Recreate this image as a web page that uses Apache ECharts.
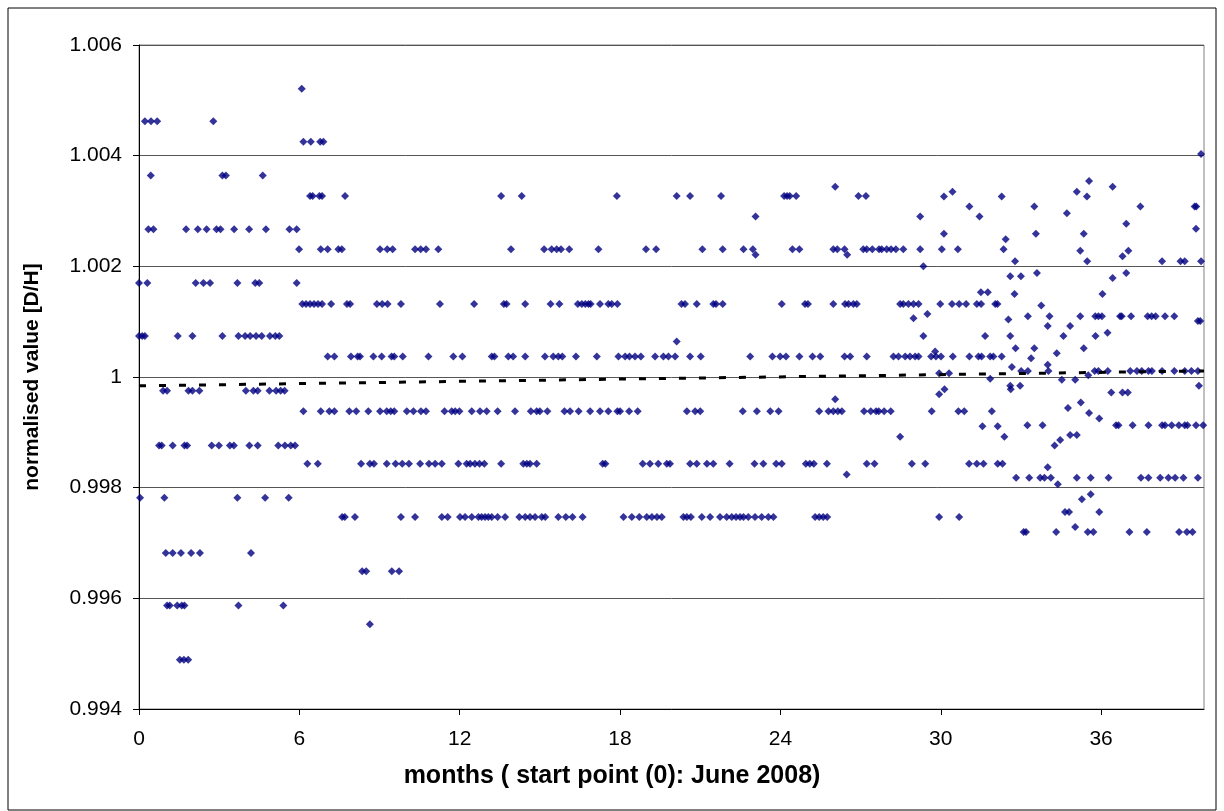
<!DOCTYPE html>
<html>
<head>
<meta charset="utf-8">
<script src="https://cdn.jsdelivr.net/npm/echarts@6/dist/echarts.min.js"></script>
<style>
  html, body { margin: 0; padding: 0; background: #fff; }
  #dh { width: 1224px; height: 811px; }
</style>
</head>
<body>
<div id="dh"></div>
<script>
// axis ticks
var monthTicks = [0, 6, 12, 18, 24, 30, 36];
var valueTicks = [0.994, 0.996, 0.998, 1, 1.002, 1.004, 1.006];

// measurements, one row per value level: [value, [months...]]
// first six months
var periodA = [
  [1.00462, [0.22, 0.45, 0.68, 2.78]],
  [1.00364, [0.44, 3.12, 3.25, 4.63]],
  [1.00267, [0.35, 0.54, 1.76, 2.2, 2.53, 2.9, 3.05, 3.56, 4.12, 4.75, 5.63, 5.9]],
  [1.0017, [0, 0.31, 2.12, 2.41, 2.66, 3.68, 4.35, 4.5, 5.9]],
  [1.00074, [0, 0.12, 0.22, 1.45, 2.0, 3.12, 3.72, 3.97, 4.16, 4.38, 4.59, 4.9, 5.1, 5.25]],
  [0.99975, [0.9, 1.05, 1.85, 2.0, 2.26, 4.0, 4.28, 4.44, 4.88, 5.13, 5.3, 5.45]],
  [0.99876, [0.75, 0.85, 1.26, 1.7, 1.8, 2.72, 2.99, 3.4, 3.55, 4.13, 4.44, 5.21, 5.46, 5.68, 5.84]],
  [0.99782, [0.04, 0.95, 3.68, 4.72, 5.6]],
  [0.99682, [1.0, 1.26, 1.57, 1.95, 2.28, 4.19]],
  [0.99587, [1.05, 1.15, 1.43, 1.6, 1.7, 3.72, 5.4]],
  [0.99489, [1.53, 1.68, 1.84]]
];

// month 6 to ~32
var periodB = [
  [1.00521, [6.09]],
  [1.00425, [6.15, 6.43, 6.78, 6.9]],
  [1.00327, [6.4, 6.5, 6.75, 6.85, 7.71, 13.55, 14.32, 17.88, 20.12, 20.62, 21.78, 24.14, 24.25, 24.35, 24.59, 26.92, 27.2]],
  [1.0029, [23.07]],
  [1.00231, [5.99, 6.8, 7.06, 7.46, 7.59, 9.02, 9.29, 9.49, 10.33, 10.54, 10.74, 11.2, 13.92, 15.16, 15.44, 15.63, 15.79, 16.1, 17.19, 18.97, 19.35, 21.08, 21.84, 22.62, 22.97, 24.45, 24.71, 25.98, 26.13, 26.4, 27.1, 27.23, 27.44, 27.69, 27.79, 27.98, 28.14, 28.32, 28.6, 29.23, 30.04, 30.64, 32.35]],
  [1.00221, [23.07, 26.5]],
  [1.00132, [6.11, 6.25, 6.4, 6.55, 6.7, 6.85, 7.19, 7.78, 7.9, 8.9, 9.1, 9.3, 9.8, 11.26, 12.54, 13.65, 13.75, 14.45, 15.4, 15.73, 16.42, 16.57, 16.7, 16.82, 16.9, 17.25, 17.56, 17.69, 17.9, 20.3, 20.43, 20.87, 21.49, 21.59, 21.84, 24.05, 24.92, 25.03, 25.98, 26.42, 26.55, 26.73, 26.86, 28.48, 28.6, 28.79, 28.98, 29.17, 29.98, 30.42, 30.69, 30.95, 31.35, 31.51, 32.04, 32.12]],
  [1.00064, [20.12]],
  [1.00037, [7.06, 7.31, 7.93, 8.18, 8.27, 8.77, 9.08, 9.45, 9.55, 9.87, 10.83, 11.76, 12.1, 13.2, 13.3, 13.82, 14.0, 14.45, 15.19, 15.5, 15.69, 15.84, 16.35, 17.13, 17.94, 18.19, 18.35, 18.56, 18.78, 19.31, 19.62, 19.81, 20.06, 20.62, 21.02, 22.87, 23.7, 23.99, 24.21, 24.71, 25.2, 25.49, 26.4, 26.61, 27.23, 28.23, 28.42, 28.67, 28.85, 29.04, 29.17, 29.64, 29.82, 30.01, 30.45, 31.07, 31.41, 31.53, 31.85, 31.97, 32.28]],
  [0.99938, [6.15, 6.8, 7.12, 7.31, 7.87, 8.13, 8.58, 9.02, 9.27, 9.42, 9.55, 10.02, 10.27, 10.55, 10.74, 11.43, 11.7, 11.83, 11.99, 12.45, 12.76, 13.01, 13.42, 14.07, 14.66, 14.88, 15.0, 15.28, 15.92, 16.13, 16.45, 16.88, 17.25, 17.56, 17.9, 18.0, 18.34, 18.66, 20.5, 20.81, 21.0, 22.59, 23.12, 23.62, 23.93, 25.45, 25.8, 25.98, 26.15, 26.3, 27.13, 27.38, 27.58, 27.68, 27.88, 28.13, 29.66, 30.66, 30.88, 31.91]],
  [0.99843, [6.3, 6.69, 8.31, 8.64, 8.79, 9.27, 9.6, 9.85, 10.1, 10.52, 10.85, 11.08, 11.33, 11.95, 12.26, 12.39, 12.57, 12.74, 12.92, 13.55, 14.38, 14.51, 14.63, 14.88, 17.35, 17.45, 18.85, 19.12, 19.43, 19.75, 19.87, 20.62, 20.87, 21.25, 21.49, 22.1, 23.03, 23.36, 23.84, 24.05, 24.95, 25.1, 25.25, 25.74, 27.23, 27.52, 28.92, 29.42, 31.06, 31.35, 31.6, 32.13, 32.31]],
  [0.99824, [26.48]],
  [0.99747, [7.6, 7.7, 8.08, 9.8, 10.33, 11.33, 11.55, 12.01, 12.2, 12.45, 12.7, 12.82, 12.95, 13.07, 13.2, 13.42, 13.7, 14.23, 14.45, 14.63, 14.82, 15.07, 15.2, 15.69, 15.97, 16.22, 16.6, 18.13, 18.44, 18.72, 19.0, 19.19, 19.38, 19.56, 20.37, 20.5, 20.65, 21.06, 21.37, 21.74, 21.99, 22.18, 22.34, 22.49, 22.62, 22.8, 23.05, 23.3, 23.55, 23.74, 25.3, 25.45, 25.6, 25.75, 29.94, 30.69]],
  [0.99649, [8.35, 8.5, 9.46, 9.73]],
  [0.99553, [8.64]]
];

// scattered values, mostly after month 28
var periodC = [
  [1.00403, [39.74]],
  [1.00354, [35.55]],
  [1.00344, [26.05, 36.43]],
  [1.00335, [30.44, 35.09]],
  [1.00326, [30.12, 32.28, 35.47]],
  [1.00308, [31.07, 33.5, 37.47, 39.5, 39.56]],
  [1.00296, [34.72]],
  [1.0029, [29.23, 31.45]],
  [1.00277, [36.94]],
  [1.00268, [39.55]],
  [1.00259, [30.12, 33.56, 35.35]],
  [1.00249, [32.43]],
  [1.00228, [35.22, 37.02]],
  [1.00218, [36.8]],
  [1.00209, [32.78, 35.48, 38.28, 38.97, 39.13, 39.74]],
  [1.002, [29.35]],
  [1.00188, [33.6, 36.94]],
  [1.00182, [32.6, 33.0]],
  [1.00179, [36.43]],
  [1.00153, [31.5, 31.76]],
  [1.0015, [32.76, 36.05]],
  [1.00129, [33.76]],
  [1.00114, [29.5]],
  [1.0011, [33.26, 34.07, 35.22, 35.78, 35.9, 36.03, 36.71, 36.77, 37.12, 37.74, 37.89, 38.04, 38.39, 38.74]],
  [1.00106, [28.98]],
  [1.00104, [32.53]],
  [1.00101, [39.62, 39.71]],
  [1.00092, [34.0, 34.84]],
  [1.0008, [36.24]],
  [1.00074, [29.35, 31.66, 32.6, 34.59, 35.79]],
  [1.00052, [32.8, 33.5, 35.35]],
  [1.00046, [29.79]],
  [1.00043, [34.34]],
  [1.00034, [33.38]],
  [1.00022, [34.0]],
  [1.00018, [32.66]],
  [1.00011, [33.01, 33.26, 34.03, 35.76, 35.9, 36.25, 37.09, 37.34, 37.52, 37.77, 37.9, 38.28, 38.74, 39.13, 39.38, 39.62]],
  [1.00007, [29.94, 30.31]],
  [1.00003, [35.52]],
  [0.99997, [31.85]],
  [0.99995, [34.53, 35.03]],
  [0.99984, [32.6, 32.97, 39.66]],
  [0.99978, [30.14, 32.62]],
  [0.99972, [36.38, 36.8, 37.0]],
  [0.99969, [29.94]],
  [0.9996, [26.05]],
  [0.99954, [35.24]],
  [0.99944, [34.76]],
  [0.99935, [35.55]],
  [0.99925, [35.93]],
  [0.99913, [33.24, 33.81, 36.56, 36.65, 37.18, 37.77, 38.28, 38.39, 38.64, 38.91, 39.13, 39.23, 39.55, 39.82]],
  [0.99911, [31.56, 32.13]],
  [0.99895, [34.84, 35.09]],
  [0.99892, [28.48, 32.38]],
  [0.99886, [34.47]],
  [0.99876, [34.26]],
  [0.99837, [34.0]],
  [0.99818, [32.82, 33.31, 33.72, 33.88, 34.12, 35.09, 35.61, 36.28, 37.49, 37.77, 38.21, 38.52, 38.77, 39.08, 39.62]],
  [0.99806, [34.38]],
  [0.99788, [35.61]],
  [0.99779, [35.28]],
  [0.99756, [34.65, 34.8, 35.93]],
  [0.99729, [35.03]],
  [0.9972, [33.1, 33.19, 34.32, 35.5, 35.71, 37.06, 37.71, 38.92, 39.21, 39.42]]
];

// dashed trend line, start and end
var trendLine = [[0, 0.99984], [39.85, 1.00011]];

function toPoints(rows) {
  var out = [];
  rows.forEach(function (r) {
    r[1].forEach(function (m) { out.push([m, r[0]]); });
  });
  return out;
}

var points = toPoints(periodA).concat(toPoints(periodB), toPoints(periodC));

var chart = echarts.init(document.getElementById('dh'));
var font = 'Liberation Sans, Arial, sans-serif';

var option = {
  animation: false,
  backgroundColor: '#fff',
  grid: {
    left: 139,
    right: 20,
    top: 45,
    bottom: 102,
    show: true,
    borderColor: '#808080',
    borderWidth: 1
  },
  graphic: [
    {
      type: 'rect',
      shape: { x: 8, y: 8, width: 1208, height: 802 },
      style: { fill: 'none', stroke: '#000', lineWidth: 1 },
      silent: true
    },
    {
      // x axis title, centred on the chart area like the original
      type: 'text',
      x: 612,
      y: 776,
      style: {
        text: 'months ( start point (0): June 2008)',
        fontFamily: font,
        fontWeight: 'bold',
        fontSize: 25,
        fill: '#000',
        align: 'center',
        verticalAlign: 'middle'
      },
      silent: true
    }
  ],
  xAxis: {
    type: 'value',
    min: 0,
    max: 39.85,
    interval: 6,
    axisLine: { lineStyle: { color: '#000', width: 1 } },
    axisTick: { show: true, length: 6, customValues: monthTicks, lineStyle: { color: '#000' } },
    axisLabel: {
      customValues: monthTicks,
      margin: 20,
      fontFamily: font,
      fontSize: 21,
      color: '#000'
    },
    splitLine: { show: false }
  },
  yAxis: {
    type: 'value',
    min: valueTicks[0],
    max: valueTicks[valueTicks.length - 1],
    interval: 0.002,
    name: 'normalised value [D/H]',
    nameLocation: 'middle',
    nameGap: 96,
    nameTextStyle: { fontFamily: font, fontWeight: 'bold', fontSize: 21, color: '#000' },
    axisLine: { show: true, lineStyle: { color: '#000', width: 1 } },
    axisTick: { show: true, length: 6, lineStyle: { color: '#000' } },
    axisLabel: {
      margin: 17,
      fontFamily: font,
      fontSize: 21,
      color: '#000',
      formatter: function (v) { return String(Number(v.toFixed(3))); }
    },
    splitLine: { show: true, lineStyle: { color: '#555', width: 1 } }
  },
  series: [
    {
      type: 'scatter',
      data: points,
      symbol: 'diamond',
      symbolSize: 8,
      itemStyle: { color: '#000080' }
    },
    {
      type: 'line',
      data: trendLine,
      showSymbol: false,
      lineStyle: { color: '#000', width: 3, type: [7, 13] }
    }
  ]
};

chart.setOption(option);
</script>
</body>
</html>
